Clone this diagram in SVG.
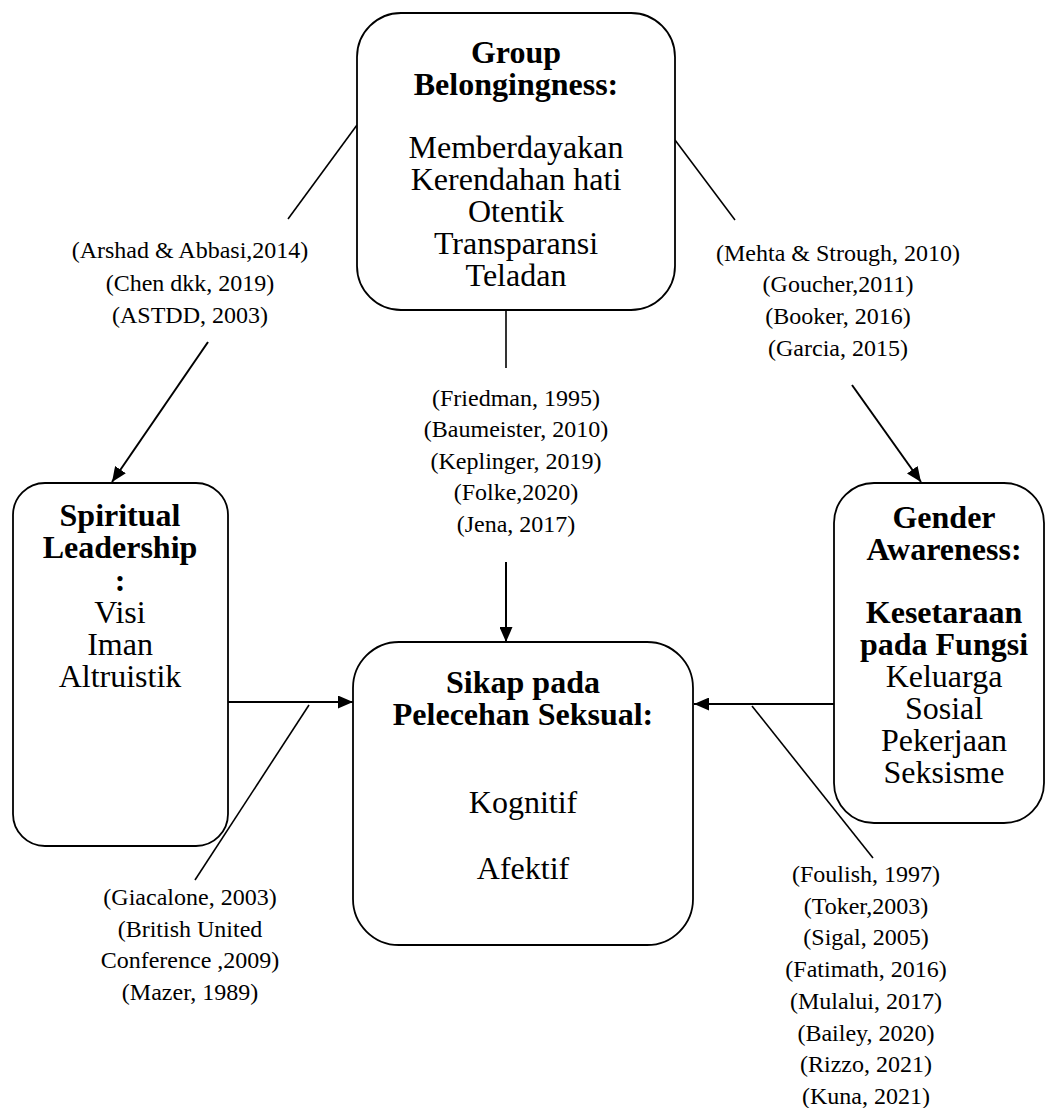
<svg xmlns="http://www.w3.org/2000/svg" width="1046" height="1108" viewBox="0 0 1046 1108">
<style>
.box{fill:#fff;stroke:#000;stroke-width:1.8}
.t{font-family:"Liberation Serif","Times New Roman",serif;font-size:32px;text-anchor:middle;fill:#000}
.b{font-weight:bold}
.c{font-family:"Liberation Serif","Times New Roman",serif;font-size:24px;text-anchor:middle;fill:#000}
.ln{stroke:#000;stroke-width:1.6;fill:none}
.ar{stroke:#000;stroke-width:2;fill:none;marker-end:url(#ah)}
</style>
<defs>
<marker id="ah" markerUnits="userSpaceOnUse" markerWidth="16" markerHeight="13" refX="15" refY="6.5" orient="auto">
<path d="M0,0 L15,6.5 L0,13 z" fill="#000"/>
</marker>
</defs>
<rect width="1046" height="1108" fill="#fff"/>
<g id="connectors">
<line class="ln" x1="357" y1="125" x2="288" y2="219"/>
<line class="ar" x1="208" y1="342" x2="112" y2="482"/>
<line class="ln" x1="675" y1="140" x2="735" y2="220"/>
<line class="ar" x1="852" y1="385" x2="921" y2="482"/>
<line class="ln" x1="506" y1="310" x2="506" y2="368"/>
<line class="ar" x1="506" y1="562" x2="506" y2="642"/>
<line class="ar" x1="228" y1="702" x2="353" y2="702"/>
<line class="ln" x1="309" y1="705" x2="195" y2="880"/>
<line class="ar" x1="834" y1="704" x2="694" y2="704"/>
<line class="ln" x1="752" y1="706" x2="873" y2="858"/>
</g>
<g id="cite-left-top">
<text class="c" x="190" y="258">(Arshad &amp; Abbasi,2014)</text>
<text class="c" x="190" y="291">(Chen dkk, 2019)</text>
<text class="c" x="190" y="323">(ASTDD, 2003)</text>
</g>
<g id="cite-center">
<text class="c" x="516" y="406">(Friedman, 1995)</text>
<text class="c" x="516" y="437">(Baumeister, 2010)</text>
<text class="c" x="516" y="469">(Keplinger, 2019)</text>
<text class="c" x="516" y="500">(Folke,2020)</text>
<text class="c" x="516" y="532">(Jena, 2017)</text>
</g>
<g id="cite-right-top">
<text class="c" x="838" y="261">(Mehta &amp; Strough, 2010)</text>
<text class="c" x="838" y="292">(Goucher,2011)</text>
<text class="c" x="838" y="324">(Booker, 2016)</text>
<text class="c" x="838" y="356">(Garcia, 2015)</text>
</g>
<g id="cite-left-bottom">
<text class="c" x="190" y="905">(Giacalone, 2003)</text>
<text class="c" x="190" y="937">(British United</text>
<text class="c" x="190" y="968">Conference ,2009)</text>
<text class="c" x="190" y="1000">(Mazer, 1989)</text>
</g>
<g id="cite-right-bottom">
<text class="c" x="866" y="882">(Foulish, 1997)</text>
<text class="c" x="866" y="914">(Toker,2003)</text>
<text class="c" x="866" y="945">(Sigal, 2005)</text>
<text class="c" x="866" y="977">(Fatimath, 2016)</text>
<text class="c" x="866" y="1009">(Mulalui, 2017)</text>
<text class="c" x="866" y="1041">(Bailey, 2020)</text>
<text class="c" x="866" y="1072">(Rizzo, 2021)</text>
<text class="c" x="866" y="1104">(Kuna, 2021)</text>
</g>
<g id="group-belongingness">
<rect class="box" x="357" y="13" width="318" height="297" rx="44" ry="44"/>
<text class="t b" x="516" y="63">Group</text>
<text class="t b" x="516" y="95">Belongingness:</text>
<text class="t" x="516" y="158">Memberdayakan</text>
<text class="t" x="516" y="190">Kerendahan hati</text>
<text class="t" x="516" y="222">Otentik</text>
<text class="t" x="516" y="254">Transparansi</text>
<text class="t" x="516" y="286">Teladan</text>
</g>
<g id="spiritual-leadership">
<rect class="box" x="13" y="483" width="215" height="363" rx="32" ry="32"/>
<text class="t b" x="120" y="526">Spiritual</text>
<text class="t b" x="120" y="558">Leadership</text>
<text class="t b" x="120" y="591">:</text>
<text class="t" x="120" y="623">Visi</text>
<text class="t" x="120" y="655">Iman</text>
<text class="t" x="120" y="687">Altruistik</text>
</g>
<g id="gender-awareness">
<rect class="box" x="834" y="483" width="210" height="340" rx="40" ry="40"/>
<text class="t b" x="944" y="528">Gender</text>
<text class="t b" x="944" y="560">Awareness:</text>
<text class="t b" x="944" y="623">Kesetaraan</text>
<text class="t b" x="944" y="655">pada Fungsi</text>
<text class="t" x="944" y="687">Keluarga</text>
<text class="t" x="944" y="719">Sosial</text>
<text class="t" x="944" y="751">Pekerjaan</text>
<text class="t" x="944" y="783">Seksisme</text>
</g>
<g id="sikap">
<rect class="box" x="353" y="642" width="340" height="303" rx="46" ry="46"/>
<text class="t b" x="523" y="693">Sikap pada</text>
<text class="t b" x="523" y="725">Pelecehan Seksual:</text>
<text class="t" x="523" y="813">Kognitif</text>
<text class="t" x="523" y="879">Afektif</text>
</g>
</svg>
